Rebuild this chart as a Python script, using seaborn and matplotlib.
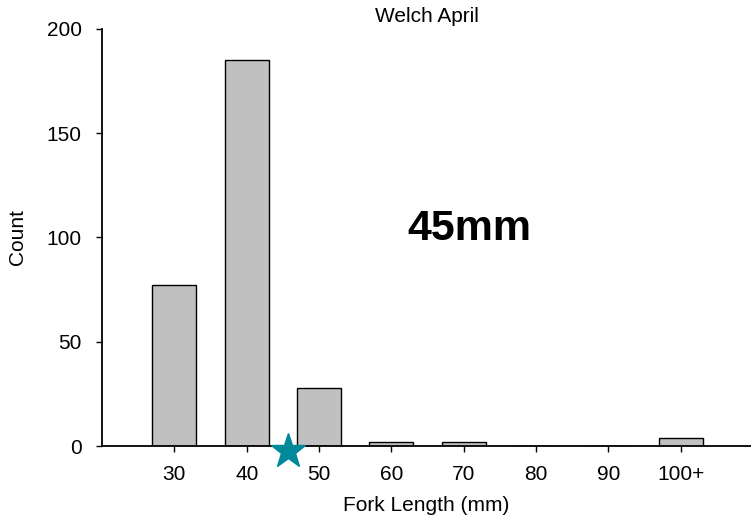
import matplotlib
matplotlib.use("Agg")
import matplotlib.pyplot as plt
import seaborn as sns
import pandas as pd

categories = ["30", "40", "50", "60", "70", "80", "90", "100+"]
counts = [77, 185, 28, 2, 2, 0, 0, 4]
yticks = [0, 50, 100, 150, 200]
title = "Welch April"
annotation = "45mm"
star_pos = 1.57
star_val = -2.2

sns.set_theme(style="white")
plt.rcParams['font.family'] = ['Liberation Sans', 'DejaVu Sans']
plt.rcParams['text.color'] = 'black'

df = pd.DataFrame({"Fork Length (mm)": categories, "Count": counts})

fig = plt.figure(figsize=(7.51, 5.26), dpi=100)
ax = fig.add_axes([0.1358, 0.152, 0.8642, 0.793])
sns.barplot(data=df, x="Fork Length (mm)", y="Count", order=categories,
            color="#c0c0c0", edgecolor="black", linewidth=1.0, width=0.61,
            saturation=1, ax=ax)
ax.set_xlim(-1.0, 7.97)
ax.set_ylim(0, 200)
ax.set_yticks(yticks)
ax.tick_params(axis="both", which="both", direction="out", length=4.5, width=1,
               color="black", labelsize=15, labelcolor="black",
               bottom=True, left=True)
ax.tick_params(axis="x", pad=9)
ax.tick_params(axis="y", pad=10)
for s in ["top", "right"]:
    ax.spines[s].set_visible(False)
for s in ["left", "bottom"]:
    ax.spines[s].set_color("black")
    ax.spines[s].set_linewidth(1.3)
ax.set_xlabel("Fork Length (mm)", fontsize=15, color="black", labelpad=9)
ax.set_ylabel("Count", fontsize=15, color="black", labelpad=14)
ax.set_title(title, fontsize=15, color="black", pad=5)
ax.text(4.08, 104, annotation, fontsize=31, fontweight="bold", ha="center",
        va="center", color="black",
        family=["Liberation Sans Narrow", "Liberation Sans", "DejaVu Sans"])
ax.plot([star_pos], [star_val], marker="*", markersize=26, color="#00899a",
        markeredgecolor="#00899a", clip_on=False, zorder=5, linestyle="none")
fig.savefig("out.png", dpi=100)
